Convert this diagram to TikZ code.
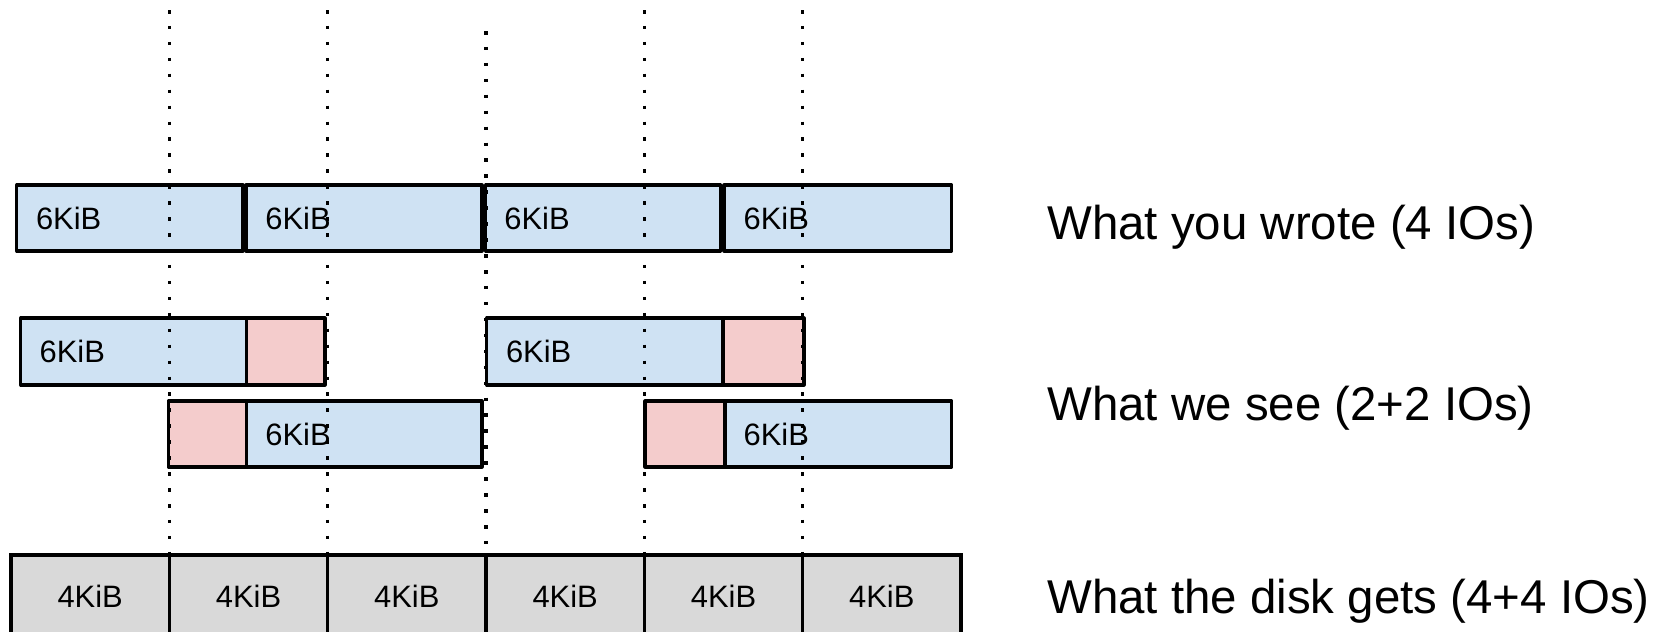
\documentclass[tikz,border=0pt]{standalone}
\usepackage{fontspec}
\setmainfont{Liberation Sans}
\usepackage{tikz}
\usetikzlibrary{positioning}
\definecolor{wblue}{HTML}{CFE2F3}
\definecolor{wpink}{HTML}{F4CCCC}
\definecolor{dgrey}{HTML}{D9D9D9}
\tikzset{
  blk/.style={draw=black, fill=wblue, line width=1.8pt, line join=round},
  pad/.style={draw=black, fill=wpink, line width=1.8pt, line join=round},
  sect/.style={draw=black, fill=dgrey, line width=1.8pt},
  bound/.style={line width=2pt, dash pattern=on 2pt off 7.07pt},
  sz/.style={font=\fontsize{17.6}{20}\selectfont, inner sep=0pt},
  capt/.style={font=\fontsize{27}{32}\selectfont, inner sep=0pt, anchor=base west},
}

\begin{document}
\begin{tikzpicture}[x=0.02cm, y=-0.02cm]
\useasboundingbox (0,0) rectangle (1661,632);
\clip (0,0) rectangle (1661,632);
% ---------- the disk: six 4KiB sectors ----------
\foreach \i in {0,...,5}{
  \draw[sect] ({11+158.33*\i},555) rectangle ({11+158.33*(\i+1)},680);
  \node[sz] (d\i) at ({11+158.33*(\i+0.5)},596) {4KiB};
}
% ---------- what was written ----------
\draw[blk] (16.7,185) rectangle (243,251);
\draw[blk] (246,185) rectangle (482,251);
\draw[blk] (485.7,185) rectangle (720.7,251);
\draw[blk] (724,185) rectangle (951.7,251);
\node[sz, anchor=west] (w1) at (35.7,218) {6KiB};
\node[sz, anchor=west] (w2) at (265,218) {6KiB};
\node[sz, anchor=west] (w3) at (504,218) {6KiB};
\node[sz, anchor=west] (w4) at (743.3,218) {6KiB};
% ---------- what we see: data plus padding ----------
\draw[blk] (20.7,318) rectangle (246.7,385);
\draw[pad] (246.7,318) rectangle (325,385);
\draw[blk] (486.7,318) rectangle (723,385);
\draw[pad] (723,318) rectangle (804,385);
\node[sz, anchor=west] (s1) at (39.3,351.5) {6KiB};
\node[sz, anchor=west] (s2) at (505.7,351.5) {6KiB};
\draw[pad] (168.3,401) rectangle (246.7,467);
\draw[blk] (246.7,401) rectangle (482,467);
\draw[pad] (645,401) rectangle (725,467);
\draw[blk] (725,401) rectangle (951.7,467);
\node[sz, anchor=west] (s3) at (265,434) {6KiB};
\node[sz, anchor=west] (s4) at (743.3,434) {6KiB};
% ---------- sector boundaries ----------
\foreach \x/\t in {169.3/10, 327.7/10, 486/31, 644.3/10, 802.7/10}
  \draw[bound] (\x,\t) -- (\x,555);
% ---------- captions ----------
\node[capt] (c1) at (1047,239) {What you wrote (4 IOs)};
\node[capt] (c2) at (1047,420) {What we see (2+2 IOs)};
\node[capt] (c3) at (1047,613) {What the disk gets (4+4 IOs)};
\end{tikzpicture}
\end{document}
